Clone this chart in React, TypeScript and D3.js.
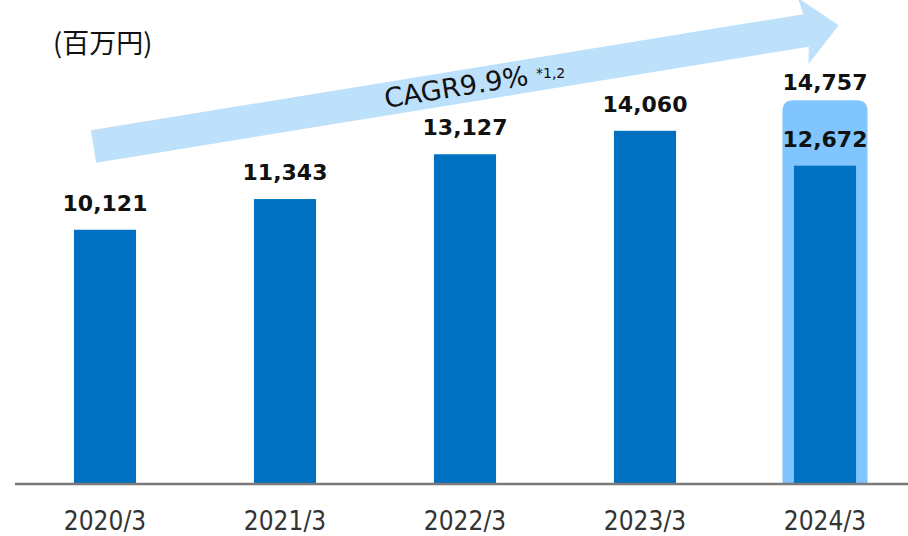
import React, { useEffect } from "react";
import * as d3 from "d3";

// 売上高（百万円）
const years = ["2020/3", "2021/3", "2022/3", "2023/3", "2024/3"];
const values = [10121, 11343, 13127, 14060, 12672];
// 2024/3 のハイライト（合算値）
const highlightValue = 14757;
const cagrLabel = "CAGR9.9%";
const cagrNote = "*1,2";
const unitLabel = "(百万円)";

const W = 908;
const H = 536;
const baseY = 484;

const App = () => {
  useEffect(() => {
    document.body.style.margin = "0";
  }, []);

  const x = d3
    .scaleBand<string>()
    .domain(years)
    .range([15, 915])
    .paddingInner(0.655)
    .paddingOuter(0.3275);

  // 1 単位あたり約 0.0251px
  const y = d3.scaleLinear().domain([0, 16000]).range([baseY, baseY - 16000 * 0.02512]);

  const last = years[years.length - 1];
  const hlPad = 11.5;
  const hlX = (x(last) as number) - hlPad;
  const hlW = x.bandwidth() + hlPad * 2;
  const hlTop = y(highlightValue) - 13;
  const r = 11;
  const hlPath = `M${hlX},${baseY} L${hlX},${hlTop + r} Q${hlX},${hlTop} ${hlX + r},${hlTop} L${hlX + hlW - r},${hlTop} Q${hlX + hlW},${hlTop} ${hlX + hlW},${hlTop + r} L${hlX + hlW},${baseY} Z`;

  // CAGR 矢印
  const ang = -9.25;
  const start = [93.5, 146.5];
  const shaftLen = 722;
  const shaftHalf = 16.5;
  const headHalf = 33.5;
  const headLen = 33;
  const arrow = d3.path();
  arrow.moveTo(0, -shaftHalf);
  arrow.lineTo(shaftLen, -shaftHalf);
  arrow.lineTo(shaftLen - 3, -headHalf);
  arrow.lineTo(shaftLen + headLen, 0);
  arrow.lineTo(shaftLen - 3, headHalf);
  arrow.lineTo(shaftLen, shaftHalf);
  arrow.lineTo(0, shaftHalf);
  arrow.closePath();

  const valueFont = "'DejaVu Sans', Verdana, sans-serif";

  return (
    <svg width={W} height={H} style={{ position: "absolute", left: 0, top: 0, background: "#fff" }}>
      <text x={53} y={53} fontFamily="'Noto Sans CJK JP', sans-serif" fontSize={27} fill="#111">
        {unitLabel}
      </text>

      <path d={arrow.toString()} fill="#BDE0FB" transform={`translate(${start[0]},${start[1]}) rotate(${ang})`} />
      <text
        transform={`translate(386,108) rotate(${ang})`}
        fontFamily={valueFont}
        fontSize={27}
        fill="#111"
      >
        {cagrLabel}
      </text>
      <text x={536} y={78} fontFamily={valueFont} fontSize={14} fill="#111">
        {cagrNote}
      </text>

      <path d={hlPath} fill="#80C5FD" />

      {years.map((yr, i) => (
        <g key={yr}>
          <rect
            x={x(yr)}
            y={y(values[i])}
            width={x.bandwidth()}
            height={baseY - y(values[i])}
            fill="#0070C0"
          />
          <text
            x={(x(yr) as number) + x.bandwidth() / 2}
            y={y(values[i]) - 19}
            textAnchor="middle"
            fontFamily={valueFont}
            fontWeight="bold"
            fontSize={22}
            fill="#111"
          >
            {d3.format(",")(values[i])}
          </text>
          <text
            x={(x(yr) as number) + x.bandwidth() / 2}
            y={530}
            textAnchor="middle"
            fontFamily="'DejaVu Sans Condensed', 'DejaVu Sans', sans-serif"
            fontStretch="condensed"
            fontSize={26}
            fill="#333"
          >
            {yr}
          </text>
        </g>
      ))}

      <text
        x={(x(last) as number) + x.bandwidth() / 2}
        y={hlTop - 10}
        textAnchor="middle"
        fontFamily={valueFont}
        fontWeight="bold"
        fontSize={22}
        fill="#111"
      >
        {d3.format(",")(highlightValue)}
      </text>

      <line x1={15} x2={W} y1={baseY} y2={baseY} stroke="#7a7a7a" strokeWidth={2.5} />
    </svg>
  );
};

export default App;
